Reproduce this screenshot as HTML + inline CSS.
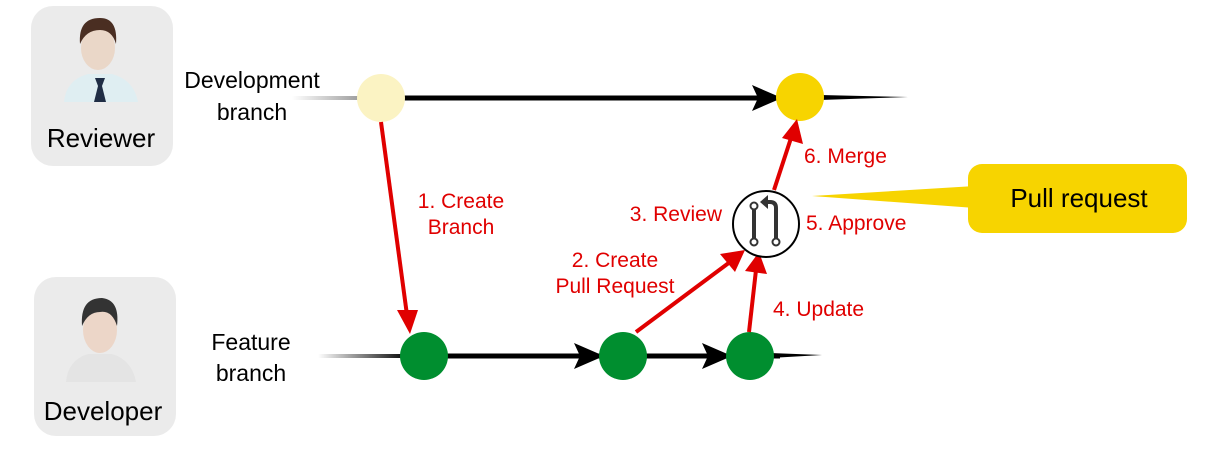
<!DOCTYPE html>
<html><head><style>
body{margin:0;background:#fff;}
svg text{font-family:"Liberation Sans",sans-serif;}
</style></head><body>
<svg width="1205" height="448" viewBox="0 0 1205 448" xmlns="http://www.w3.org/2000/svg">
<defs>
<linearGradient id="fade" x1="0" x2="1"><stop offset="0" stop-color="#fff"/><stop offset="1" stop-color="#999"/></linearGradient>
<linearGradient id="fade2" x1="0" x2="1"><stop offset="0" stop-color="#fff"/><stop offset="1" stop-color="#000"/></linearGradient>
</defs>
<rect x="31" y="6" width="142" height="160" rx="22" fill="#ebebeb"/>
<rect x="34" y="277" width="142" height="159" rx="22" fill="#ebebeb"/>
<path d="M64 102 Q66 80 88 74 L112 74 Q134 80 138 102 Z" fill="#dfeef2"/>
<path d="M95 78 L105 78 L102 86 L106 102 L94 102 L98 86 Z" fill="#1f2d45"/>
<ellipse cx="98" cy="48" rx="17" ry="22" fill="#ead7c8"/>
<path d="M80 44 Q78 18 100 18 Q118 18 116 44 Q112 30 100 30 Q86 30 80 44 Z" fill="#4a2e22"/>
<path d="M66 382 Q68 360 88 354 L112 354 Q132 360 136 382 Z" fill="#e4e4e4"/>
<ellipse cx="100" cy="330" rx="17" ry="23" fill="#ecd6c8"/>
<path d="M82 326 Q80 298 102 298 Q120 300 117 326 Q112 310 100 312 Q88 312 82 326 Z" fill="#333"/>
<text x="101" y="147" font-size="26" text-anchor="middle">Reviewer</text>
<text x="103" y="420" font-size="26" text-anchor="middle">Developer</text>
<text x="252" y="88" font-size="23" text-anchor="middle">Development</text>
<text x="252" y="120" font-size="23" text-anchor="middle">branch</text>
<text x="251" y="350" font-size="23" text-anchor="middle">Feature</text>
<text x="251" y="381" font-size="23" text-anchor="middle">branch</text>
<!-- dev branch line -->
<rect x="292" y="96" width="70" height="4" fill="url(#fade)"/>
<line x1="400" y1="98" x2="780" y2="98" stroke="#000" stroke-width="5"/>
<path d="M820 95 L908 97 L820 100 Z" fill="#000"/>
<path d="M752 85 L782 98 L752 111 L758 98 Z" fill="#000"/>
<!-- feature branch line -->
<rect x="318" y="354" width="90" height="4" fill="url(#fade2)"/>
<line x1="420" y1="356" x2="780" y2="356" stroke="#000" stroke-width="5"/>
<path d="M770 353 L822 355 L770 358 Z" fill="#000"/>
<path d="M574 343 L604 356 L574 369 L580 356 Z" fill="#000"/>
<path d="M702 343 L732 356 L702 369 L708 356 Z" fill="#000"/>
<circle cx="381" cy="98" r="24" fill="#fbf3c3"/>
<circle cx="800" cy="97" r="24" fill="#f7d400"/>
<circle cx="424" cy="356" r="24" fill="#008e2f"/>
<circle cx="623" cy="356" r="24" fill="#008e2f"/>
<circle cx="750" cy="356" r="24" fill="#008e2f"/>
<g stroke="#e00000" stroke-width="4" fill="#e00000">
<line x1="381" y1="122" x2="407" y2="315"/>
<line x1="636" y1="332" x2="730" y2="262"/>
<line x1="749" y1="332" x2="756" y2="270"/>
<line x1="774" y1="190" x2="792" y2="135"/>
</g>
<g fill="#e00000">
<path d="M397 310 L418 310 L410 334 Z"/>
<path d="M720 254 L745 250 L735 272 Z"/>
<path d="M745 271 L759 252 L767 274 Z"/>
<path d="M782 138 L797 119 L803 144 Z"/>
</g>
<circle cx="766" cy="224" r="33" fill="#fff" stroke="#000" stroke-width="2"/>
<g stroke="#333" stroke-width="4" fill="none">
<line x1="754" y1="210" x2="754" y2="240"/>
<path d="M776 240 L776 208 Q776 202 770 202 L764 202"/>
</g>
<g fill="#fff" stroke="#333" stroke-width="2">
<circle cx="754" cy="206" r="3.5"/><circle cx="754" cy="242" r="3.5"/><circle cx="776" cy="242" r="3.5"/>
</g>
<path d="M760 202 L768 195 L768 209 Z" fill="#333"/>
<path d="M812 196 L975 186 L975 208 Z" fill="#f7d400"/>
<rect x="968" y="164" width="219" height="69" rx="14" fill="#f7d400"/>
<text x="1079" y="207" font-size="26" text-anchor="middle">Pull request</text>
<g fill="#e00000" font-size="21">
<text x="461" y="208" text-anchor="middle">1. Create</text>
<text x="461" y="234" text-anchor="middle">Branch</text>
<text x="722" y="221" text-anchor="end">3. Review</text>
<text x="615" y="267" text-anchor="middle">2. Create</text>
<text x="615" y="293" text-anchor="middle">Pull Request</text>
<text x="804" y="163">6. Merge</text>
<text x="806" y="230">5. Approve</text>
<text x="773" y="316">4. Update</text>
</g>
</svg>
</body></html>
